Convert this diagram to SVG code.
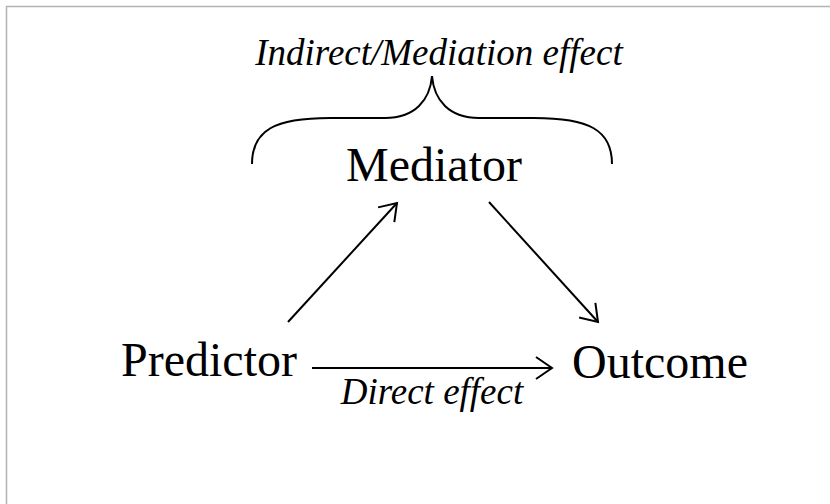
<svg xmlns="http://www.w3.org/2000/svg" width="830" height="504" viewBox="0 0 830 504">
<style>
.t{font-family:"Liberation Serif","Times New Roman",serif;fill:#000}
.n{font-size:48px}
.i{font-size:37px;font-style:italic}
.c{fill:none;stroke:#000;stroke-width:2}
</style>
<defs>
<marker id="ah" markerUnits="userSpaceOnUse" markerWidth="30" markerHeight="30" refX="20" refY="15" orient="auto" viewBox="0 0 30 30">
<path d="M4,4 L20,15 L4,26" fill="none" stroke="#000" stroke-width="2"/>
</marker>
</defs>
<rect width="830" height="504" fill="#fff"/>
<path d="M6.5,504 V6.5 H830" fill="none" stroke="#b3b3b3" stroke-width="1.5"/>
<g id="label-indirect"><text class="t i" x="439" y="65" text-anchor="middle">Indirect/Mediation effect</text></g>
<g id="brace"><path class="c" d="M252,164 C252,130 275,118 330,118 L385,118 C415,118 430,100 432,76 C434,100 449,118 479,118 L534,118 C589,118 612,130 612,164"/></g>
<g id="mediator"><text class="t n" x="434" y="181" text-anchor="middle">Mediator</text></g>
<g id="predictor"><text class="t n" x="209" y="376" text-anchor="middle">Predictor</text></g>
<g id="outcome"><text class="t n" x="660" y="378" text-anchor="middle">Outcome</text></g>
<g id="label-direct"><text class="t i" x="432" y="404" text-anchor="middle">Direct effect</text></g>
<g id="connectors">
<line class="c" x1="288" y1="322" x2="397" y2="203" marker-end="url(#ah)"/>
<line class="c" x1="489" y1="202" x2="598" y2="322" marker-end="url(#ah)"/>
<line class="c" x1="312" y1="368" x2="552" y2="368" marker-end="url(#ah)"/>
</g>
</svg>
